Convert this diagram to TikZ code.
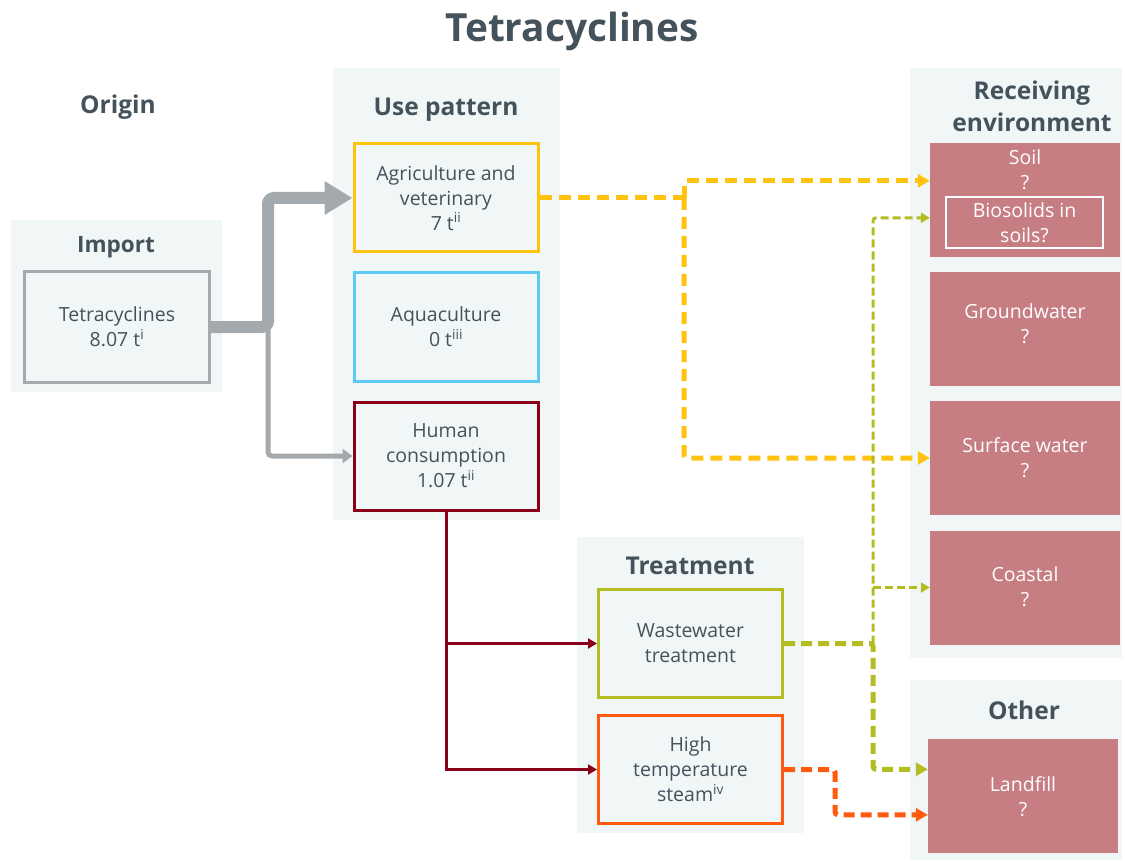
\documentclass[tikz,border=0pt]{standalone}
\usepackage{fontspec}
\setmainfont{Open Sans}
\usetikzlibrary{arrows.meta,calc}
\definecolor{panelbg}{HTML}{F1F7F7}
\definecolor{txt}{HTML}{44525C}
\definecolor{arrgray}{HTML}{A4A9AD}
\definecolor{envred}{HTML}{C67E83}
\definecolor{yel}{HTML}{FFC20E}
\definecolor{aquac}{HTML}{5BCBF5}
\definecolor{dred}{HTML}{8A0019}
\definecolor{olivec}{HTML}{B3BC21}
\definecolor{orng}{HTML}{FF5A0D}
\begin{document}
\begin{tikzpicture}[x=1pt,y=-1pt,
  panelfill/.style={fill=panelbg},
  boxnode/.style={draw=#1, line width=3pt, fill=panelbg, minimum width=184pt, minimum height=108pt,
    inner sep=0pt, align=center, text=txt, font=\fontsize{19.5}{25}\selectfont},
  envbox/.style={fill=envred, minimum width=190pt, minimum height=114pt, inner sep=0pt},
  envtext/.style={text=white, align=center, font=\fontsize{19.5}{25}\selectfont, inner sep=0pt},
  head/.style={text=txt, align=center, font=\bfseries\fontsize{24.5}{32}\selectfont, inner sep=0pt},
  bigdash/.style={line width=5pt, dash pattern=on 12pt off 7pt, rounded corners=3pt},
  smalldash/.style={line width=3pt, dash pattern=on 8pt off 4pt, rounded corners=3pt},
  bigtip/.style={-{Triangle[length=12pt,width=13pt]}},
  smalltip/.style={-{Triangle[length=9pt,width=10pt]}}
]
\path[use as bounding box] (0,0) rectangle (1125,861);

% panels
\fill[panelfill] (11,220) rectangle (222,392);
\fill[panelfill] (333,68) rectangle (560,520);
\fill[panelfill] (577,537) rectangle (804,833);
\fill[panelfill] (910,68) rectangle (1122,658);
\fill[panelfill] (910,680) rectangle (1122,860);

% headings
\node[text=txt, font=\bfseries\fontsize{38.8}{46}\selectfont, inner sep=0pt] (title) at (572,31) {Tetracyclines};
\node[head] (horigin) at (118,107) {Origin};
\node[head, font=\bfseries\fontsize{22.5}{30}\selectfont] (himport) at (116,247) {Import};
\node[head] (huse) at (446,110) {Use pattern};
\node[head] (htreat) at (690,566) {Treatment};
\node[head] (henv) at (1032,106.5) {Receiving\\environment};
\node[head] (hother) at (1024,710) {Other};

% boxes
\node[boxnode=arrgray, minimum width=185pt, minimum height=110pt] (impbox) at (117,327) {Tetracyclines\\8.07 t\textsuperscript{i}};
\node[boxnode=yel] (agri) at (446,198) {Agriculture and\\veterinary\\7 t\textsuperscript{ii}};
\node[boxnode=aquac] (aqua) at (446,327) {Aquaculture\\0 t\textsuperscript{iii}};
\node[boxnode=dred] (human) at (446,456) {Human\\consumption\\1.07 t\textsuperscript{ii}};
\node[boxnode=olivec] (waste) at (690.5,643.5) {Wastewater\\treatment};
\node[boxnode=orng] (high) at (690.5,769.5) {High\\temperature\\steam\textsuperscript{iv}};

% environment boxes
\node[envbox] (soil) at (1025,200) {};
\node[envbox] (ground) at (1025,329) {};
\node[envbox] (surface) at (1025,458) {};
\node[envbox] (coastal) at (1025,587.5) {};
\node[envbox] (landfill) at (1023,796) {};
\node[envtext] (soiltxt) at (1025,170) {Soil\\?};
\node[envtext, draw=white, line width=1.5pt, minimum width=157pt, minimum height=51pt] (bio) at (1024.5,222.5) {Biosolids in\\soils?};
\node[envtext] (groundtxt) at (1025,323.5) {Groundwater\\?};
\node[envtext] (surfacetxt) at (1025,457.5) {Surface water\\?};
\node[envtext] (coastaltxt) at (1025,586.5) {Coastal\\?};
\node[envtext] (landfilltxt) at (1023,796.5) {Landfill\\?};

% coordinates
\coordinate (gj) at (268,327);
\coordinate (gtop) at (268,198);
\coordinate (gbot) at (268,456);
\coordinate (r1) at (446,643.5);
\coordinate (r2) at (446,769.5);
\coordinate (ya) at (684,198);
\coordinate (soilA) at ($(soil.north west)+(0,38)$);
\coordinate (soilB) at ($(soil.north west)+(0,75)$);
\coordinate (surfA) at (surface.west);
\coordinate (oa) at (873,643.5);
\coordinate (lfA) at ($(landfill.north west)+(0,30.5)$);
\coordinate (lfB) at ($(landfill.north west)+(0,76)$);
\coordinate (oc) at (835,769.5);

% gray arrows
\draw[arrgray, line width=12pt, rounded corners=6pt, -{Triangle[length=28pt,width=32pt]}]
  (impbox.east) -- (gj) -- (gtop) -- (agri.west);
\draw[arrgray, line width=5pt, rounded corners=4pt, -{Triangle[length=10pt,width=14pt]}]
  (gj) -- (gbot) -- (human.west);

% dark red
\draw[dred, line width=3pt, smalltip] (human.south) -- (r2) -- (high.west);
\draw[dred, line width=3pt, smalltip] (r1) -- (waste.west);

% yellow
\draw[yel, bigdash] (agri.east) -- (ya);
\draw[yel, bigdash, bigtip] (ya) -- (ya |- soilA) -- (soilA);
\draw[yel, bigdash, bigtip] (ya) -- (ya |- surfA) -- (surfA);

% olive
\draw[olivec, smalldash, smalltip] (oa) -- (oa |- soilB) -- (soilB);
\draw[olivec, smalldash, smalltip] (oa |- coastal.west) -- (coastal.west);
\draw[olivec, bigdash, dash pattern=on 11pt off 6pt, bigtip] (waste.east) -- (oa) -- (oa |- lfA) -- (lfA);

% orange
\draw[orng, bigdash, dash pattern=on 11pt off 6pt, bigtip] (high.east) -- (oc) -- (oc |- lfB) -- (lfB);
\end{tikzpicture}
\end{document}
